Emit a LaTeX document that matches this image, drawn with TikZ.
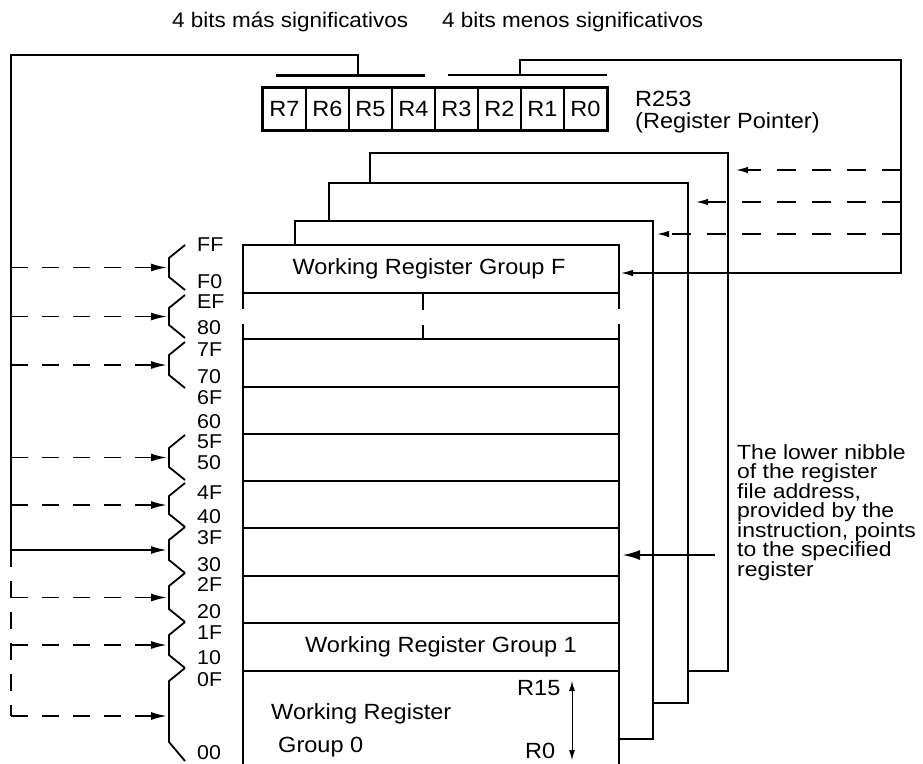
\documentclass[tikz,border=0pt]{standalone}
\usepackage{fontspec}
\setmainfont{Liberation Sans}[FakeStretch=1.07]
\newfontfamily\widefont{Liberation Sans}[FakeStretch=1.12]
\usetikzlibrary{arrows.meta}
\begin{document}
\begin{tikzpicture}[x=1pt,y=-1pt,
  backpage/.style={draw=black, line width=1.3pt, fill=white},
  frontline/.style={line width=2.4pt, line cap=rect},
  rowline/.style={line width=2pt},
  bracket/.style={line width=1.8pt, line join=miter},
  arrL/.style={-{Latex[length=16pt,width=8pt]}},
  arrR/.style={-{Latex[length=12pt,width=6.5pt]}},
  dashL/.style={dash pattern=on 17pt off 14pt, line width=1.8pt},
  dashR/.style={dash pattern=on 19pt off 16pt, line width=1.4pt},
  lbl/.style={font=\fontsize{20}{20}\selectfont, anchor=west, inner sep=0pt},
  txt/.style={font=\fontsize{22}{19.3}\selectfont, inner sep=0pt},
  toptxt/.style={font=\fontsize{21}{21}\selectfont, inner sep=0pt},
  cell/.style={draw, line width=1.4pt, minimum width=43pt, minimum height=42pt, inner sep=0pt, font=\fontsize{22}{22}\selectfont},
]
\useasboundingbox (0,0) rectangle (923,763);

% ---- top texts
\node[toptxt, anchor=base west] (msb) at (172,27) {4 bits más significativos};
\node[toptxt, anchor=base west] (lsb) at (442,27) {4 bits menos significativos};

% ---- register pointer
\foreach \n [count=\i from 0] in {R7,R6,R5,R4,R3,R2,R1,R0}{
  \node[cell] (\n) at (284.5+43*\i,109) {\n};
}
\draw[line width=2.5pt] (R7.north west) rectangle (R0.south east);
\node[txt, anchor=base west] (r253) at (635,106) {R253};
\node[txt, anchor=base west] (rp) at (635,128) {(Register Pointer)};

% ---- nibble bars
\coordinate (barL1) at (276,75);
\coordinate (barL2) at (425,75);
\coordinate (barR1) at (448,75);
\coordinate (barR2) at (607,75);
\draw[line width=3pt] (barL1) -- (barL2);
\draw[line width=2.4pt] (barR1) -- (barR2);
\coordinate (hiTap) at (358,75);
\coordinate (loTap) at (520,75);

% ---- stacked back pages
\draw[backpage] (370,153) rectangle (728,671);
\draw[backpage] (329,183) rectangle (688,703);
\draw[backpage] (295,221) rectangle (653,739);

% ---- front page
\fill[white] (243,245) rectangle (619,775);
\draw[frontline] (243,245) -- (619,245);
\draw[frontline] (243,245) -- (243,308);
\draw[frontline] (243,325) -- (243,775);
\draw[frontline] (619,245) -- (619,308);
\draw[frontline] (619,325) -- (619,775);
\foreach \y in {293,339,387,434,481,528,576,623,671}{
  \draw[rowline] (243,\y) -- (619,\y);
}
\draw[line width=2.4pt] (423,293) -- (423,310);
\draw[line width=2.4pt] (423,325) -- (423,339);

\node[txt] (gF) at (429,269) {Working Register Group F};
\node[txt] (g1) at (441,647) {Working Register Group 1};
\node[txt, anchor=base west] (g0a) at (271,719) {Working Register};
\node[txt, anchor=base west] (g0b) at (278,752) {Group 0};
\node[txt, anchor=base west] (r15) at (517,695) {R15};
\node[txt, anchor=base west] (r0) at (525,758) {R0};
\coordinate (rtop) at (572,681);
\coordinate (rbot) at (572,760);
\draw[line width=1pt, {Latex[length=10pt,width=6pt]}-{Latex[length=10pt,width=6pt]}] (rtop) -- (rbot);

% ---- page edge targets
\coordinate (p4) at (736,170);
\coordinate (p3) at (696,202);
\coordinate (p2) at (657,234);
\coordinate (p1) at (621,273);
\coordinate (p1b) at (622,555);

% ---- right connector (low nibble)
\draw[line width=1.3pt, arrR] (loTap) -- (520,60) -- (901,60) -- (901,273) -- (p1);
\draw[dashR, arrR] (901,170) -- (p4);
\draw[dashR, arrR] (901,202) -- (p3);
\draw[dashR, arrR] (901,234) -- (p2);

% ---- right explanation text
\node[inner sep=0pt, font=\widefont\fontsize{20.5}{19.5}\selectfont, anchor=north west, align=left] (expl) at (737,444) {The lower nibble\\of the register\\file address,\\provided by the\\instruction, points\\to the specified\\register};
\coordinate (explArr) at (715,555);
\draw[line width=2.5pt, -{Latex[length=18pt,width=10pt]}] (explArr) -- (p1b);

% ---- brackets and labels (left)
\foreach \t/\b/\name in {245/290/b1, 295/338/b2, 342/388/b3, 435/480/b4, 483/527/b5, 527/573/b6, 573/622/b7, 622/668/b8}{
  \draw[bracket] (185,\t) -- (169,\t+13) -- (169,\b-13) -- (185,\b);
  \coordinate (\name) at (167,{(\t+\b)/2});
}
\draw[bracket] (185,668) -- (169,681) -- (169,742) -- (185,761);
\coordinate (b9) at (167,716);

\foreach \l/\y in {FF/245, F0/282, EF/302, 80/328, 7F/350, 70/377, 6F/398, 60/422, 5F/442, 50/463, 4F/493, 40/517, 3F/538, 30/565, 2F/585, 20/612, 1F/633, 10/658, 0F/680, 00/753}{
  \node[lbl] (a\l) at (197,\y) {\l};
}

% ---- left connector (high nibble)
\coordinate (cTop) at (11,55);
\coordinate (cMid) at (11,550);
\coordinate (cEnd) at (11,716);
\draw[line width=2pt, arrL] (hiTap) -- (358,55) -- (cTop) -- (cMid) -- (b6);
\draw[dashL] (cMid) -- (cEnd);
\foreach \name in {b1,b2,b3,b4,b5,b7,b8,b9}{
  \draw[dashL, arrL] (11,0 |- \name) -- (\name);
}
\end{tikzpicture}
\end{document}
